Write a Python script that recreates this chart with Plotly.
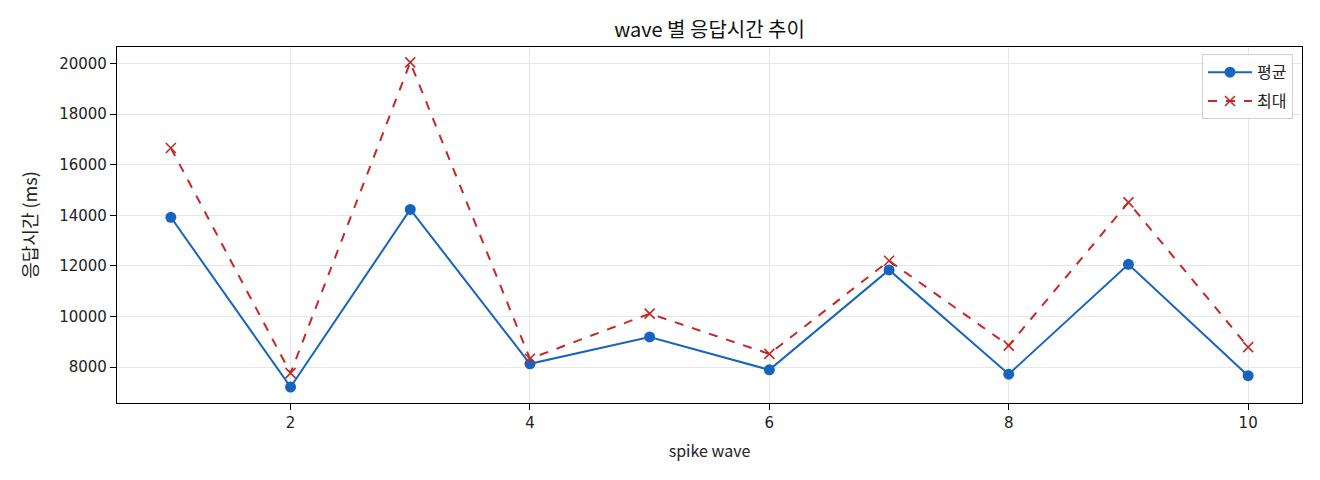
import plotly.graph_objects as go

waves = [1, 2, 3, 4, 5, 6, 7, 8, 9, 10]
avg_ms = [13920, 7210, 14230, 8130, 9190, 7890, 11840, 7720, 12060, 7660]
max_ms = [16660, 7760, 20040, 8330, 10110, 8520, 12200, 8850, 14510, 8790]
x_ticks = [2, 4, 6, 8, 10]
y_ticks = [8000, 10000, 12000, 14000, 16000, 18000, 20000]

FONT = "Noto Sans CJK KR"
TICKFONT = "DejaVu Sans, Noto Sans CJK KR"
BLUE = "#1565C0"
RED = "#C62828"

fig = go.Figure()
fig.add_trace(go.Scatter(
    x=waves, y=avg_ms, name="평균", mode="lines+markers", legendgroup="a",
    line=dict(color=BLUE, width=2),
    marker=dict(symbol="circle", size=11, color=BLUE),
))
fig.add_trace(go.Scatter(
    x=waves, y=max_ms, name="최대", mode="lines+markers", legendgroup="b",
    line=dict(color=RED, width=2, dash="dash"),
    marker=dict(symbol="x-thin", size=10, color=RED, line=dict(color=RED, width=1.6)),
))

axis_common = dict(
    showline=True, linecolor="black", linewidth=1.2, mirror=True,
    ticks="outside", ticklen=6, tickcolor="black", tickwidth=1,
    showgrid=True, gridcolor="#e6e6e6", gridwidth=1,
    zeroline=False,
    tickfont=dict(family=TICKFONT, size=15, color="#222"),
)

fig.update_xaxes(
    range=[0.55, 10.45], tickvals=x_ticks, ticktext=[str(v) for v in x_ticks],
    title=dict(text="spike wave", font=dict(family=FONT, size=16, color="#222"), standoff=14),
    **axis_common,
)
fig.update_yaxes(
    range=[6580, 20650], tickvals=y_ticks, ticktext=[str(v) for v in y_ticks],
    title=dict(text="응답시간 (ms)", font=dict(family=FONT, size=18, color="#222"), standoff=16),
    **axis_common,
)

fig.update_layout(
    width=1312, height=472,
    margin=dict(l=109, r=18, t=39, b=77),
    paper_bgcolor="white", plot_bgcolor="white",
    title=dict(text="wave 별 응답시간 추이", x=0.5, xanchor="center", y=0.953, yanchor="middle",
               xref="paper", yref="container",
               font=dict(family=FONT, size=20, color="#111")),
    font=dict(family=FONT, size=15, color="#222"),
    legend=dict(
        x=0.9924, y=0.9795, xanchor="right", yanchor="top",
        bgcolor="rgba(255,255,255,0.85)", bordercolor="#d0d0d0", borderwidth=1,
        font=dict(family=FONT, size=16, color="#222"),
        traceorder="grouped", tracegroupgap=5,
        itemwidth=44,
    ),
    showlegend=True,
)

fig.write_html("out.html")
